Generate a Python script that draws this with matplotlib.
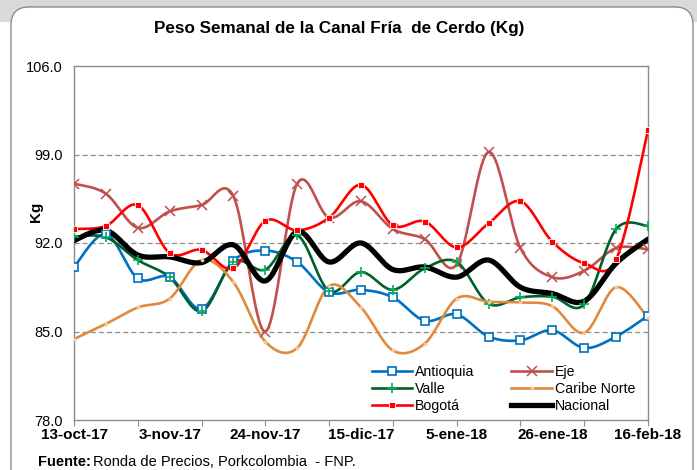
import numpy as np
import matplotlib
matplotlib.use("Agg")
import matplotlib.pyplot as plt
from matplotlib.patches import FancyBboxPatch, Rectangle
from matplotlib import font_manager

dates = ["13-oct-17", "20-oct-17", "27-oct-17", "3-nov-17", "10-nov-17", "17-nov-17",
         "24-nov-17", "1-dic-17", "8-dic-17", "15-dic-17", "22-dic-17", "29-dic-17",
         "5-ene-18", "12-ene-18", "19-ene-18", "26-ene-18", "2-feb-18", "9-feb-18", "16-feb-18"]

antioquia = [90.1, 92.7, 89.2, 89.3, 86.8, 90.6, 91.4, 90.5, 88.1, 88.3, 87.7, 85.85,
             86.35, 84.6, 84.3, 85.1, 83.7, 84.6, 86.25]
eje = [96.7, 95.9, 93.2, 94.5, 95.0, 95.7, 85.0, 96.7, 94.0, 95.3, 93.1, 92.3,
       90.3, 99.2, 91.6, 89.3, 89.8, 91.6, 91.5]
valle = [92.5, 92.45, 90.65, 89.3, 86.6, 90.5, 89.9, 92.6, 88.2, 89.7, 88.3, 90.0,
         90.5, 87.2, 87.7, 87.75, 87.15, 93.1, 93.35]
caribe = [84.4, 85.6, 86.9, 87.6, 90.65, 88.9, 84.2, 83.7, 88.6, 86.9, 83.5, 84.05,
          87.6, 87.35, 87.3, 87.0, 84.9, 88.5, 86.1]
bogota = [93.1, 93.35, 95.0, 91.2, 91.45, 90.0, 93.75, 93.0, 94.0, 96.6, 93.4, 93.7,
          91.65, 93.55, 95.3, 92.1, 90.4, 90.7, 100.9]
nacional = [92.2, 93.0, 91.05, 90.9, 90.45, 91.85, 89.0, 92.9, 90.5, 92.0, 89.9, 90.1,
            89.3, 90.65, 88.5, 88.0, 87.4, 90.4, 92.3]

yticks = [78.0, 85.0, 92.0, 99.0, 106.0]

available = {f.name for f in font_manager.fontManager.ttflist}
narrow = "Liberation Sans Narrow" if "Liberation Sans Narrow" in available else "Liberation Sans"
plt.rcParams['font.family'] = ['Liberation Sans', 'DejaVu Sans']


def smooth(y, n=24):
    y = np.asarray(y, float)
    x = np.arange(len(y), dtype=float)
    P = np.column_stack([x, y])
    Pe = np.vstack([P[0], P, P[-1]])
    out = []
    t = np.linspace(0, 1, n)[:, None]
    for i in range(len(P) - 1):
        p0, p1, p2, p3 = Pe[i], Pe[i + 1], Pe[i + 2], Pe[i + 3]
        c1 = p1 + (p2 - p0) / 6.0
        c2 = p2 - (p3 - p1) / 6.0
        seg = ((1 - t) ** 3) * p1 + 3 * ((1 - t) ** 2) * t * c1 + 3 * (1 - t) * t ** 2 * c2 + t ** 3 * p2
        out.append(seg if i == 0 else seg[1:])
    out = np.vstack(out)
    return out[:, 0], out[:, 1]


W, H = 697, 470
fig = plt.figure(figsize=(W / 100, H / 100), dpi=100)
fig.patch.set_facecolor("white")

bg = fig.add_axes([0, 0, 1, 1], zorder=-10)
bg.set_xlim(0, W)
bg.set_ylim(H, 0)
bg.axis("off")
bg.add_patch(Rectangle((0, 0), W, 22, facecolor="#d9d9d9", edgecolor="none"))
bg.add_patch(FancyBboxPatch((11, 7), 682, 520, boxstyle="round,pad=0,rounding_size=18",
                            facecolor="white", edgecolor="#8c8c8c", linewidth=1.0))

ax = fig.add_axes([74 / W, 1 - 420 / H, (648 - 74) / W, (420 - 66) / H])
ax.set_facecolor("white")

x = np.arange(len(dates))
series = [
    ("Antioquia", antioquia, dict(color="#0070C0", lw=1.9), dict(marker="s", ms=5.5, mfc="white", mec="#0070C0", mew=1.2)),
    ("Eje", eje, dict(color="#C0504D", lw=1.9), dict(marker="x", ms=6.5, mec="#C0504D", mew=1.1)),
    ("Valle", valle, dict(color="#00602B", lw=1.9), dict(marker="+", ms=7, mec="#00B050", mew=1.2)),
    ("Caribe Norte", caribe, dict(color="#E08A3C", lw=1.9), dict(marker="o", ms=2.2, mfc="#F6C9A0", mec="#F6C9A0", mew=0.5)),
    ("Bogotá", bogota, dict(color="#FF0000", lw=1.9), dict(marker="s", ms=4.5, mfc="#FF0000", mec="white", mew=0.6)),
    ("Nacional", nacional, dict(color="#000000", lw=3.8), dict(marker=None)),
]

handles = {}
for name, vals, lkw, mkw in series:
    sx, sy = smooth(vals)
    ax.plot(sx, sy, solid_capstyle="round", zorder=3 if name != "Nacional" else 4, **lkw)
    if mkw.get("marker"):
        ax.plot(x, vals, ls="none", zorder=5, **mkw)
    h, = ax.plot([], [], **lkw, **{k: v for k, v in mkw.items()})
    handles[name] = h

ax.set_xlim(0, len(dates) - 1)
ax.set_ylim(78, 106)
ax.set_yticks(yticks)
ax.set_yticklabels([f"{v:.1f}" for v in yticks], fontsize=10.5)
for v in yticks[1:-1]:
    ax.axhline(v, color="#8c8c8c", lw=0.9, ls=(0, (4, 2.5)), zorder=1)

ax.xaxis.remove_overlapping_locs = False
ax.set_xticks(x[::2])
ax.set_xticklabels([])
ax.set_xticks(x[::3], minor=True)
ax.set_xticklabels([dates[i] for i in x[::3]], minor=True, fontsize=11,
                   fontweight="bold", family=[narrow, "Liberation Sans"])
ax.tick_params(axis="x", which="major", length=4, color="#8c8c8c", direction="out")
ax.tick_params(axis="x", which="minor", length=0, pad=6)
ax.tick_params(axis="y", length=0, pad=8)
for s in ax.spines.values():
    s.set_color("#8c8c8c")
    s.set_linewidth(1.0)

fig.text(36 / W, 1 - 212 / H, "Kg", rotation=90, ha="center", va="center",
         fontsize=11, fontweight="bold")

order = ["Antioquia", "Valle", "Bogotá", "Eje", "Caribe Norte", "Nacional"]
leg = ax.legend([handles[n] for n in order], order, ncol=2, loc="lower left",
                bbox_to_anchor=((372 - 74) / (648 - 74), (420 - 413) / (420 - 66)),
                frameon=False, fontsize=10.2, borderpad=0,
                handlelength=2.85, handletextpad=0.2, columnspacing=2.6,
                labelspacing=0.2, borderaxespad=0.0)

fig.text(339 / W, 1 - 28 / H, "Peso Semanal de la Canal Fría  de Cerdo (Kg)",
         ha="center", va="center", fontsize=12.3, fontweight="bold",
         family=[narrow, "Liberation Sans"])
fig.text(38 / W, 1 - 462 / H, "Fuente:", ha="left", va="center",
         fontsize=10.5, fontweight="bold")
fig.text(93 / W, 1 - 462 / H, "Ronda de Precios, Porkcolombia  - FNP.", ha="left",
         va="center", fontsize=10.5, family=[narrow, "Liberation Sans"])

fig.savefig("out.png", dpi=100)
